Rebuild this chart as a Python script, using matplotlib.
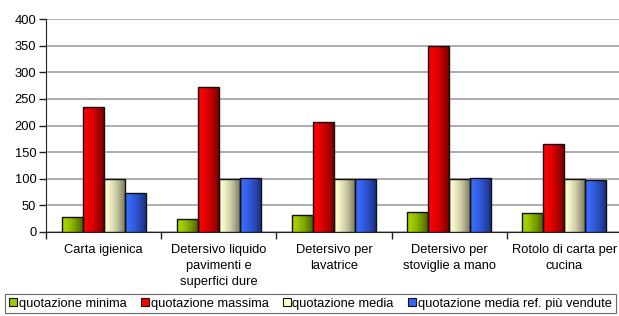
import matplotlib
matplotlib.use("Agg")
import matplotlib.pyplot as plt
from matplotlib.colors import LinearSegmentedColormap
from matplotlib.patches import Patch
import numpy as np

plt.rcParams['font.family'] = ['Liberation Sans', 'DejaVu Sans']

categories = ["Carta igienica",
              "Detersivo liquido\npavimenti e\nsuperfici dure",
              "Detersivo per\nlavatrice",
              "Detersivo per\nstoviglie a mano",
              "Rotolo di carta per\ncucina"]
series_names = ["quotazione minima", "quotazione massima",
                "quotazione media", "quotazione media ref. più vendute"]
q_min = [29, 25, 32, 37, 36]
q_max = [235, 273, 207, 349, 165]
q_media = [100, 100, 100, 100, 100]
q_ref = [73, 101, 100, 101, 98]

# light (left) -> dark (right) for each series
colors = [("#a6d600", "#4a6200"),
          ("#ff0000", "#7a0000"),
          ("#ffffd2", "#7d7d62"),
          ("#3a6cff", "#1a2f80")]
flat = ["#99cc00", "#ff0000", "#ffffcc", "#3366ff"]

fs = 9.3

fig = plt.figure(figsize=(6.19, 3.16), dpi=100)
ax = fig.add_axes([46 / 619, 1 - 232 / 316, 576 / 619, 213 / 316])

x = np.arange(len(categories))
bw = 0.182
grad = np.linspace(0, 1, 64) ** 1.6
grad = grad.reshape(1, -1)

for i, vals in enumerate([q_min, q_max, q_media, q_ref]):
    cmap = LinearSegmentedColormap.from_list("g%d" % i, colors[i])
    pos = x + (i - 1.5) * bw
    bars = ax.bar(pos, vals, width=bw, color="none", edgecolor="#111111",
                  linewidth=1.0, zorder=4)
    for b in bars:
        x0, w, h = b.get_x(), b.get_width(), b.get_height()
        im = ax.imshow(grad, cmap=cmap, aspect="auto",
                       extent=[x0, x0 + w, 0, h], zorder=3,
                       interpolation="bilinear")
        im.set_clip_path(b)

ax.set_xlim(-0.5, len(categories) - 0.5)
ax.set_ylim(0, 400)
ax.set_yticks(np.arange(0, 401, 50))
ax.yaxis.grid(True, color="#a0a0a0", linewidth=1.2, zorder=0)
ax.set_axisbelow(True)

ax.set_xticks(np.arange(len(categories) + 1) - 0.5)
ax.set_xticklabels([])
ax.set_xticks(x, minor=True)
ax.set_xticklabels(categories, minor=True, fontsize=fs, linespacing=1.42)
ax.tick_params(axis="x", which="minor", length=0, pad=9)
ax.tick_params(axis="x", which="major", length=5, width=1, color="#222222")
ax.tick_params(axis="y", length=5, width=1, color="#222222", labelsize=fs, pad=2)

for s in ["top", "right"]:
    ax.spines[s].set_visible(False)
ax.spines["left"].set_color("#222222")
ax.spines["bottom"].set_color("#222222")

handles = [Patch(facecolor=flat[i], edgecolor="#111111", linewidth=0.8)
           for i in range(4)]
leg = fig.legend(handles, series_names, loc="center", ncol=4,
                 bbox_to_anchor=(310.5 / 619, 1 - 303.5 / 316),
                 fontsize=fs, frameon=True, fancybox=False,
                 handlelength=0.6, handleheight=0.6, handletextpad=0.15,
                 columnspacing=1.1, borderpad=0.3, borderaxespad=0)
leg.get_frame().set_edgecolor("#444444")
leg.get_frame().set_linewidth(0.8)

fig.savefig("out.png", dpi=100)
